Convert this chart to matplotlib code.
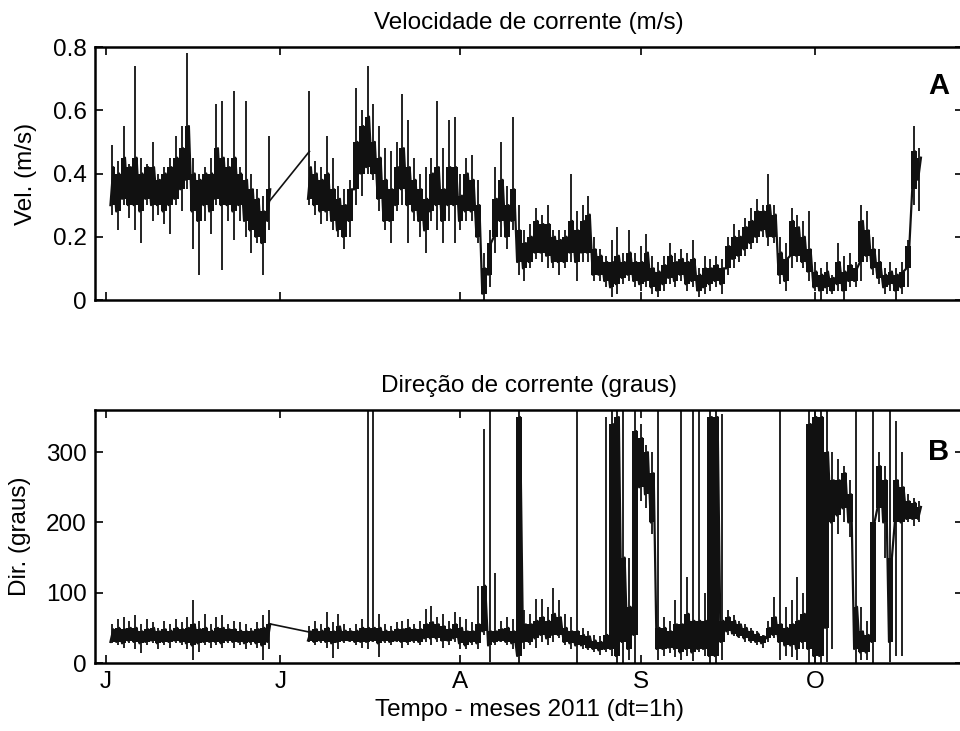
import numpy as np
import matplotlib
matplotlib.use("Agg")
import matplotlib.pyplot as plt

plt.rcParams['font.family'] = ['Liberation Sans', 'DejaVu Sans']

# time axis: days counted from 1 June 2011
month_ticks = [0, 30, 61, 92, 122]
month_labels = ['J', 'J', 'A', 'S', 'O']

days_jun = list(range(1, 29))
days_rest = list(range(35, 141))

# velocity (m/s) per day: extreme low / high and dense core band
vel_lo_jun = [.27, .22, .30, .26, .22, .18, .30, .25, .27, .24, .21, .30, .28, .35,
              .16, .08, .25, .21, .30, .095, .25, .19, .25, .20, .15, .18, .08, .22]
vel_hi_jun = [.49, .44, .55, .43, .74, .45, .43, .50, .40, .42, .45, .52, .55, .78,
              .45, .40, .42, .45, .62, .63, .45, .66, .42, .63, .40, .35, .33, .52]
vel_clo_jun = [.30, .28, .32, .30, .30, .28, .32, .30, .30, .28, .30, .32, .35, .38,
               .28, .25, .30, .28, .32, .30, .30, .28, .30, .25, .22, .20, .18, .25]
vel_chi_jun = [.42, .40, .45, .42, .45, .40, .42, .42, .38, .40, .42, .45, .48, .55,
               .40, .38, .40, .40, .48, .45, .42, .45, .40, .38, .35, .32, .28, .35]

vel_lo_rest = [.30, .27, .24, .25, .22, .20, .16, .20, .30, .33, .40, .38, .28, .22,
               .18, .28, .30, .18, .25, .20, .15, .25, .22, .18, .25, .18, .22,
               .25, .25, .18, .00, .04, .15, .20, .16, .22, .08, .06, .10, .13, .12,
               .10, .10, .08, .10, .12, .06, .12, .12, .06, .06, .04, .01, .02, .05,
               .06, .04, .03, .04, .02, .01, .03, .05, .04, .06, .03, .04, .01, .02,
               .03, .04, .02, .08, .10, .12, .14, .16, .18, .20, .17, .18, .05, .03,
               .10, .12, .10, .06, .03, .00, .02, .02, .03, .00, .04, .04, .06, .12,
               .08, .05, .02, .03, .00, .02, .04, .30, .28]
vel_hi_rest = [.66, .44, .42, .52, .45, .36, .35, .38, .67, .60, .74, .62, .55, .48,
               .47, .50, .65, .57, .45, .40, .42, .45, .63, .48, .57, .58, .40,
               .45, .46, .38, .15, .22, .42, .50, .36, .58, .30, .22, .24, .29, .27,
               .30, .22, .22, .22, .40, .28, .30, .33, .20, .16, .14, .19, .23, .15,
               .22, .15, .17, .21, .14, .12, .14, .18, .15, .16, .15, .19, .10, .14,
               .13, .14, .13, .20, .24, .22, .26, .29, .32, .30, .40, .30, .20, .18,
               .29, .27, .25, .28, .12, .10, .12, .08, .18, .14, .15, .12, .30, .28,
               .20, .16, .10, .12, .10, .12, .19, .55, .48]
vel_clo_rest = [.32, .30, .28, .28, .25, .22, .20, .25, .35, .40, .42, .40, .32, .25,
                .25, .30, .35, .30, .28, .25, .22, .28, .30, .25, .30, .30, .25,
                .28, .28, .20, .02, .08, .20, .25, .20, .25, .12, .10, .12, .15, .15,
                .14, .12, .12, .12, .15, .12, .15, .15, .08, .08, .06, .04, .05, .07,
                .08, .06, .05, .06, .04, .03, .05, .07, .06, .08, .05, .06, .03, .04,
                .05, .06, .05, .10, .13, .14, .16, .18, .20, .22, .20, .20, .08, .06,
                .14, .14, .12, .09, .04, .03, .04, .03, .05, .03, .06, .06, .12, .14,
                .10, .07, .04, .05, .03, .04, .10, .35, .38]
vel_chi_rest = [.42, .40, .38, .40, .35, .32, .30, .35, .50, .55, .58, .50, .45, .38,
                .35, .42, .48, .42, .38, .35, .32, .40, .42, .35, .42, .42, .33,
                .40, .38, .30, .10, .18, .32, .38, .30, .35, .22, .18, .20, .25, .24,
                .24, .20, .19, .20, .25, .22, .25, .27, .16, .14, .12, .12, .14, .12,
                .15, .12, .12, .15, .10, .09, .11, .14, .12, .13, .12, .13, .08, .10,
                .10, .11, .10, .17, .20, .20, .23, .25, .28, .28, .30, .27, .15, .13,
                .25, .23, .20, .16, .09, .08, .09, .07, .12, .09, .11, .10, .25, .22,
                .16, .12, .08, .09, .08, .09, .17, .47, .45]

# direction (degrees) per day: extreme low / high and dense core band
dir_lo_jun = [28, 25, 22, 28, 20, 14, 25, 28, 20, 25, 22, 28, 25, 20,
              4, 15, 25, 22, 25, 22, 28, 22, 25, 20, 25, 22, 5, 20]
dir_hi_jun = [55, 62, 65, 60, 68, 55, 62, 58, 50, 60, 55, 62, 58, 65,
              89, 60, 70, 55, 65, 68, 55, 60, 58, 55, 50, 58, 68, 75]
dir_clo_jun = [30, 30, 28, 32, 30, 28, 30, 32, 28, 30, 30, 32, 30, 28,
               25, 28, 30, 30, 30, 28, 32, 30, 30, 28, 30, 28, 25, 30]
dir_chi_jun = [48, 50, 48, 50, 50, 45, 48, 50, 45, 48, 46, 50, 48, 50,
               55, 48, 50, 46, 50, 50, 48, 48, 46, 45, 45, 48, 50, 55]

dir_lo_rest = [30, 25, 28, 22, 7, 20, 28, 30, 25, 22, 20, 30, 9, 28,
               25, 30, 22, 25, 28, 25, 30, 25, 30, 22, 25, 30, 20,
               20, 25, 20, 40, 2, 25, 30, 25, 20, 0, 20, 25, 22, 30,
               25, 30, 35, 25, 20, 0, 20, 18, 15, 12, 15, 10, 0, 0,
               5, 0, 230, 220, 183, 5, 10, 14, 8, 4, 10, 3, 15, 10,
               0, 0, 5, 40, 38, 35, 30, 28, 25, 22, 30, 35, 5, 10,
               8, 4, 20, 0, 0, 0, 2, 20, 183, 200, 180, 0, 5, 4,
               0, 200, 150, 2, 10, 10, 200, 195, 200]
dir_hi_rest = [52, 60, 55, 72, 58, 70, 55, 50, 55, 62, 358, 358, 70, 55,
               52, 58, 60, 62, 55, 60, 77, 81, 65, 70, 60, 72, 65,
               62, 58, 110, 333, 358, 128, 60, 65, 62, 360, 75, 70, 91, 91,
               80, 107, 90, 70, 65, 360, 50, 45, 40, 38, 350, 360, 360, 360,
               150, 360, 340, 310, 300, 358, 65, 60, 90, 358, 122, 358, 358, 100,
               360, 360, 355, 75, 68, 60, 55, 50, 45, 40, 60, 94, 358, 80,
               90, 122, 100, 360, 360, 360, 358, 300, 290, 280, 260, 360, 80, 60,
               360, 300, 280, 358, 345, 300, 240, 235, 230]
dir_clo_rest = [32, 30, 32, 30, 28, 30, 32, 32, 30, 30, 30, 32, 28, 32,
                30, 32, 30, 30, 32, 30, 35, 35, 35, 32, 32, 35, 28,
                25, 30, 28, 45, 25, 30, 32, 30, 28, 10, 30, 30, 35, 40,
                35, 40, 40, 30, 28, 25, 25, 22, 20, 18, 20, 20, 10, 30,
                20, 40, 250, 240, 200, 20, 20, 22, 20, 15, 20, 15, 20, 20,
                10, 10, 30, 45, 42, 38, 35, 32, 30, 28, 35, 40, 30, 25,
                25, 20, 30, 20, 10, 10, 50, 200, 210, 220, 200, 20, 15, 15,
                30, 220, 200, 30, 200, 200, 205, 205, 205]
dir_chi_rest = [45, 48, 46, 50, 45, 52, 46, 45, 46, 50, 50, 50, 50, 46,
                45, 48, 48, 50, 48, 48, 55, 58, 55, 52, 48, 55, 50,
                45, 45, 55, 110, 45, 45, 48, 50, 45, 350, 55, 55, 60, 65,
                60, 70, 65, 50, 45, 45, 40, 38, 32, 30, 40, 340, 350, 150,
                80, 330, 320, 300, 270, 50, 50, 45, 55, 55, 70, 60, 60, 60,
                350, 350, 60, 65, 60, 55, 50, 45, 42, 38, 50, 65, 55, 50,
                55, 60, 70, 340, 350, 350, 300, 260, 260, 270, 240, 80, 45, 40,
                200, 280, 260, 150, 260, 250, 230, 228, 222]

# straight segment drawn across the data gap (end of June - start of July)
gap_t = [28, 35]
gap_vel = [0.31, 0.47]
gap_dir = [56, 44]

line_color = '#111111'


def draw_series(ax, lo_jun, hi_jun, clo_jun, chi_jun, lo_rest, hi_rest, clo_rest, chi_rest, gap):
    for days, lo, hi, clo, chi in [(days_jun, lo_jun, hi_jun, clo_jun, chi_jun),
                                   (days_rest, lo_rest, hi_rest, clo_rest, chi_rest)]:
        # dense core: step-filled band, plus a jagged outline joining the daily core values
        ax.fill_between(days, clo, chi, step='mid', color=line_color, lw=0)
        t = []
        v = []
        for d, a, b in zip(days, clo, chi):
            t += [d - 0.25, d + 0.25]
            v += [a, b]
        ax.plot(t, v, color=line_color, lw=1.6)
        # hourly spikes
        ax.vlines(days, lo, hi, color=line_color, lw=1.3)
    ax.plot(gap_t, gap, color=line_color, lw=1.2)


def style(ax):
    ax.tick_params(direction='in', top=True, right=True, length=6, width=1.2,
                   labelsize=17.5, pad=6)
    for s in ax.spines.values():
        s.set_linewidth(1.8)
    ax.set_xlim(-1.9, 147.5)
    ax.set_xticks(month_ticks)


def main():
    fig = plt.figure(figsize=(9.6, 7.31), dpi=100)

    ax1 = fig.add_axes([0.0990, 0.5896, 0.9042, 0.3461])
    draw_series(ax1, vel_lo_jun, vel_hi_jun, vel_clo_jun, vel_chi_jun,
                vel_lo_rest, vel_hi_rest, vel_clo_rest, vel_chi_rest, gap_vel)
    style(ax1)
    ax1.set_xticklabels([])
    ax1.set_ylim(0, 0.8)
    ax1.set_yticks([0, 0.2, 0.4, 0.6, 0.8])
    ax1.set_yticklabels(['0', '0.2', '0.4', '0.6', '0.8'])
    ax1.set_title('Velocidade de corrente (m/s)', fontsize=17.5, pad=13)
    ax1.set_ylabel('Vel. (m/s)', fontsize=17.5)
    ax1.yaxis.set_label_coords(-0.067, 0.5)
    ax1.text(0.972, 0.846, 'A', transform=ax1.transAxes, fontsize=21,
             fontweight='bold', ha='center', va='center')

    ax2 = fig.add_axes([0.0990, 0.0930, 0.9042, 0.3461])
    draw_series(ax2, dir_lo_jun, dir_hi_jun, dir_clo_jun, dir_chi_jun,
                dir_lo_rest, dir_hi_rest, dir_clo_rest, dir_chi_rest, gap_dir)
    style(ax2)
    ax2.set_xticklabels(month_labels)
    ax2.set_ylim(0, 360)
    ax2.set_yticks([0, 100, 200, 300])
    ax2.set_title('Direção de corrente (graus)', fontsize=17.5, pad=13)
    ax2.set_ylabel('Dir. (graus)', fontsize=17.5)
    ax2.yaxis.set_label_coords(-0.074, 0.5)
    ax2.set_xlabel('Tempo - meses 2011 (dt=1h)', fontsize=17.5, labelpad=4)
    ax2.text(0.972, 0.834, 'B', transform=ax2.transAxes, fontsize=21,
             fontweight='bold', ha='center', va='center')

    fig.savefig('out.png', dpi=100)


if __name__ == '__main__':
    main()
